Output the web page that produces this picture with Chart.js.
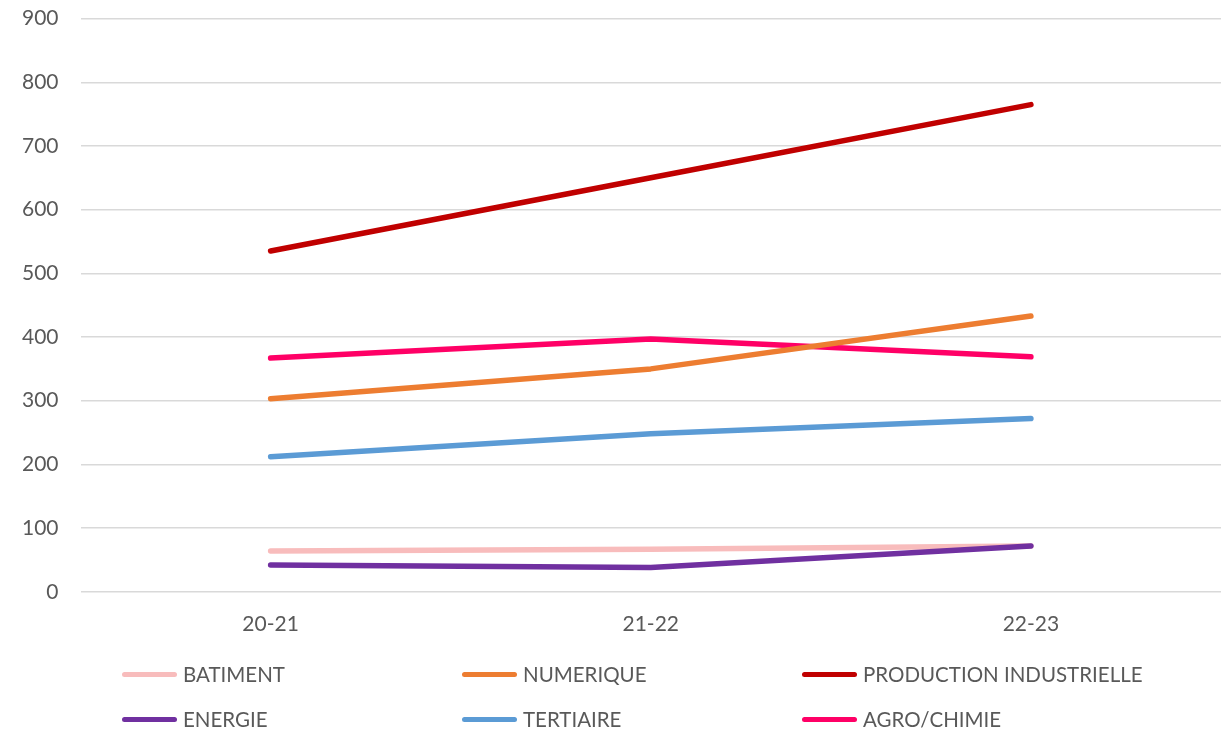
<!DOCTYPE html>
<html>
<head>
<meta charset="utf-8">
<script src="https://cdn.jsdelivr.net/npm/chart.js@4.4.1/dist/chart.umd.min.js"></script>
<style>
  html, body { margin: 0; padding: 0; background: #fff; overflow: hidden; }
  #wrap { position: relative; width: 1227px; height: 731px; overflow: hidden; }
  #lineChart { position: absolute; left: 0; top: -16px; }
  #legend { position: absolute; left: 0; top: 661px; width: 1227px; font-family: Lato, "Open Sans", sans-serif; font-size: 20.5px; color: #595959; }
  .item { position: absolute; display: flex; align-items: center; height: 26px; white-space: nowrap; }
  .swatch { width: 55px; height: 5px; border-radius: 3px; margin-right: 6px; }
</style>
</head>
<body>
<div id="wrap">
  <canvas id="lineChart" width="1227" height="747"></canvas>
  <div id="legend"></div>
</div>
<script>
const years = ["20-21", "21-22", "22-23"];
const seriesNames = ["BATIMENT", "NUMERIQUE", "PRODUCTION INDUSTRIELLE", "ENERGIE", "TERTIAIRE", "AGRO/CHIMIE"];
const batiment = [64, 67, 72];
const numerique = [303, 350, 433];
const production = [535, 650, 765];
const energie = [42, 38, 72];
const tertiaire = [212, 248, 272];
const agroChimie = [367, 397, 369];
const colors = ["#F8BCBC", "#ED7D31", "#C00000", "#7030A0", "#5B9BD5", "#FF0066"];

const values = [batiment, numerique, production, energie, tertiaire, agroChimie];
// draw order: last listed is on top
const drawOrder = [2, 5, 1, 4, 0, 3];
const tickFont = { family: "Lato", size: 21 };

const chart = new Chart(document.getElementById("lineChart"), {
  type: "line",
  data: {
    labels: years,
    datasets: values.map((v, i) => ({
      label: seriesNames[i],
      data: v,
      borderColor: colors[i],
      backgroundColor: colors[i],
      borderWidth: 5.5,
      borderCapStyle: "round",
      borderJoinStyle: "round",
      pointRadius: 0,
      tension: 0,
      order: drawOrder.length - drawOrder.indexOf(i),
    })),
  },
  options: {
    responsive: false,
    animation: false,
    layout: { padding: { left: 0, right: 6, top: 0, bottom: 82 } },
    plugins: { legend: { display: false }, tooltip: { enabled: false } },
    scales: {
      x: {
        offset: true,
        grid: { display: false },
        border: { display: false },
        ticks: { color: "#595959", font: tickFont, padding: 12 },
      },
      y: {
        min: 0,
        max: 900,
        ticks: { stepSize: 100, color: "#595959", font: tickFont, padding: 22 },
        grid: { color: "#D9D9D9", lineWidth: 1.5, drawTicks: false },
        border: { display: false },
      },
    },
  },
});

// legend in three columns, two rows
const legend = document.getElementById("legend");
seriesNames.forEach((name, i) => {
  const item = document.createElement("div");
  item.className = "item";
  item.style.left = (122 + (i % 3) * 340) + "px";
  item.style.top = (Math.floor(i / 3) * 45) + "px";
  item.innerHTML = `<span class="swatch" style="background:${colors[i]}"></span><span>${name}</span>`;
  legend.appendChild(item);
});
</script>
</body>
</html>
